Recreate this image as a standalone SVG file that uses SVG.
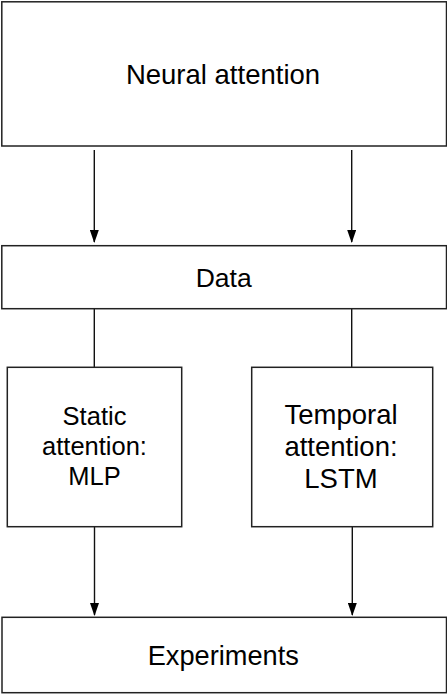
<svg xmlns="http://www.w3.org/2000/svg" width="447" height="694" viewBox="0 0 447 694">
<style>
.box{fill:#fff;stroke:#222;stroke-width:1.5}
.lbl{font-family:"Liberation Sans",Arial,sans-serif;fill:#000;text-anchor:middle}
.edge{stroke:#111;stroke-width:1.4;fill:none}
</style>
<defs>
<marker id="ah" viewBox="0 0 13 9" refX="12" refY="4.5" markerWidth="13" markerHeight="9" markerUnits="userSpaceOnUse" orient="auto">
<path d="M0,0 L13,4.5 L0,9 Z" fill="#000"/>
</marker>
</defs>
<rect width="447" height="694" fill="#fff"/>
<g id="connectors">
<line class="edge" x1="94.3" y1="150" x2="94.3" y2="242" marker-end="url(#ah)"/>
<line class="edge" x1="351.7" y1="150" x2="351.7" y2="242" marker-end="url(#ah)"/>
<line class="edge" x1="94.3" y1="309" x2="94.3" y2="367"/>
<line class="edge" x1="351.7" y1="309" x2="351.7" y2="367"/>
<line class="edge" x1="94.5" y1="527" x2="94.5" y2="615" marker-end="url(#ah)"/>
<line class="edge" x1="352.3" y1="527" x2="352.3" y2="615" marker-end="url(#ah)"/>
</g>
<g id="neural">
<rect class="box" x="1.8" y="1.8" width="444.7" height="144.2"/>
<text class="lbl" x="223" y="84.3" font-size="27.5">Neural attention</text>
</g>
<g id="data">
<rect class="box" x="1.8" y="245.7" width="444.7" height="63"/>
<text class="lbl" x="223.7" y="286.7" font-size="26.5">Data</text>
</g>
<g id="static">
<rect class="box" x="7.3" y="367.3" width="174.4" height="159.4"/>
<text class="lbl" font-size="25.5"><tspan x="94.5" y="425">Static</tspan><tspan x="94.5" y="455">attention:</tspan><tspan x="94.5" y="485">MLP</tspan></text>
</g>
<g id="temporal">
<rect class="box" x="251.7" y="367.3" width="181" height="159.4"/>
<text class="lbl" font-size="27.5"><tspan x="341" y="424">Temporal</tspan><tspan x="341" y="456">attention:</tspan><tspan x="341" y="488">LSTM</tspan></text>
</g>
<g id="experiments">
<rect class="box" x="2" y="617.3" width="444.5" height="75.4"/>
<text class="lbl" x="223.3" y="665" font-size="27.2">Experiments</text>
</g>
</svg>
